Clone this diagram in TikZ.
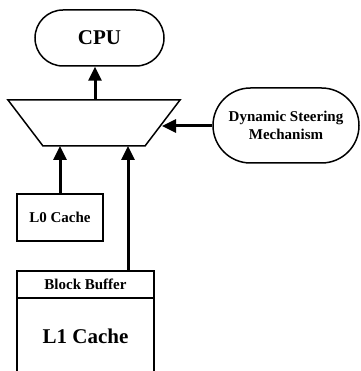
\documentclass[tikz,border=0pt]{standalone}
\usepackage{fontspec}
\setmainfont{Liberation Serif}
\usetikzlibrary{arrows.meta}
\tikzset{
  box/.style={draw, line width=1.5pt, rectangle, inner sep=0pt, font=\bfseries\fontsize{15}{18}\selectfont},
  pill/.style={draw, line width=1.5pt, rounded corners=#1, inner sep=0pt, align=center},
  bigtxt/.style={font=\bfseries\fontsize{21}{24}\selectfont},
  smalltxt/.style={font=\bfseries\fontsize{15}{18}\selectfont},
  conn/.style={line width=3pt, -{Triangle[length=14pt,width=13pt]}},
}
\begin{document}
\begin{tikzpicture}[x=1pt,y=-1pt]
\useasboundingbox (0,0) rectangle (360,371);
\clip (0,0) rectangle (360,371);
% CPU
\node[pill=28pt, bigtxt, minimum width=129pt, minimum height=56pt] (cpu) at (99.5,38) {CPU};
% Dynamic steering
\node[pill=37.5pt, smalltxt, minimum width=146pt, minimum height=75pt] (dsm) at (286,125.5) {Dynamic Steering\\Mechanism};
% Mux trapezoid
\draw[line width=1.5pt, line join=miter] (8,100) coordinate (mtl) -- (180,100) coordinate (mtr) -- (145,146) coordinate (mbr) -- (43,146) coordinate (mbl) -- cycle;
\coordinate (muxout) at (95,100);
\coordinate (muxin0) at (60,146);
\coordinate (muxin1) at (128,146);
\coordinate (muxsel) at (162,126);
% L0 cache
\node[box, minimum width=86pt, minimum height=47pt] (l0) at (60,217.5) {L0 Cache};
% Block buffer
\node[box, minimum width=137pt, minimum height=27pt] (bb) at (85.5,284.5) {Block Buffer};
% L1 cache
\node[box, bigtxt, minimum width=137pt, minimum height=76pt] (l1) at (85.5,336) {L1 Cache};
% connectors
\draw[conn] (muxout) -- (muxout |- cpu.south);
\draw[conn] (dsm.west |- muxsel) -- (muxsel);
\draw[conn] (l0.north) -- (muxin0);
\draw[conn] (bb.north -| muxin1) -- (muxin1);
\end{tikzpicture}
\end{document}
